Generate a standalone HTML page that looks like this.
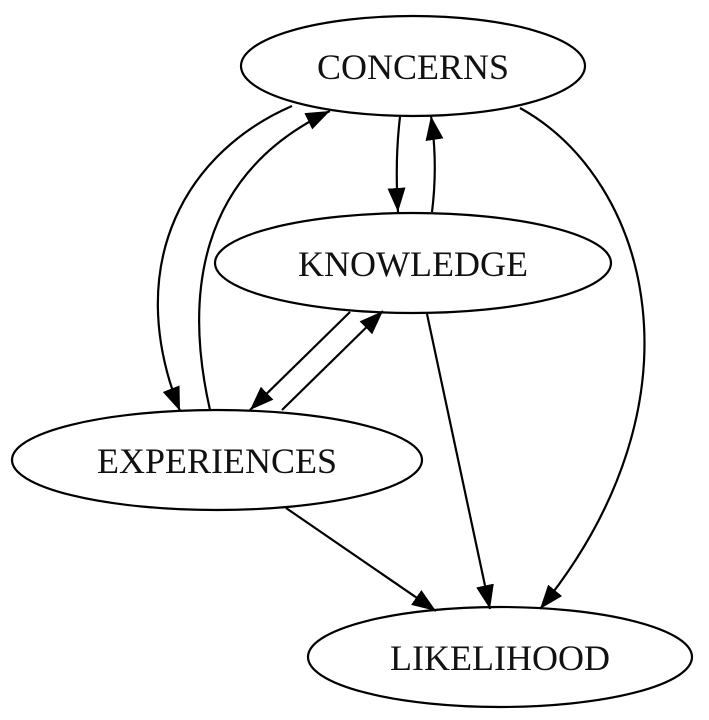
<!DOCTYPE html>
<html><head><style>
html,body{margin:0;padding:0;background:#fff;}
svg{display:block;}
text{font-family:"Liberation Serif",serif;font-size:36px;fill:#111;}
</style></head><body>
<svg width="709" height="720" viewBox="0 0 709 720" xmlns="http://www.w3.org/2000/svg">
<defs>
<marker id="a" markerWidth="24" markerHeight="18" refX="24" refY="9" orient="auto" markerUnits="userSpaceOnUse">
<path d="M0,0 L24,9 L0,18 Z" fill="#000"/>
</marker>
</defs>
<g fill="none" stroke="#000" stroke-width="2.2">
<ellipse cx="413" cy="66" rx="172" ry="50"/>
<ellipse cx="413" cy="263" rx="198" ry="50"/>
<ellipse cx="217" cy="460" rx="205" ry="50"/>
<ellipse cx="500" cy="657" rx="192" ry="50"/>
<path d="M292,106 C190,150 120,260 180,411" marker-end="url(#a)"/>
<path d="M210,410 C185,300 195,175 330,111" marker-end="url(#a)"/>
<path d="M400,117 C396,150 396,180 398,212" marker-end="url(#a)"/>
<path d="M432,212 C436,180 436,150 431,116" marker-end="url(#a)"/>
<path d="M350,312 L250,410" marker-end="url(#a)"/>
<path d="M282,410 L383,311" marker-end="url(#a)"/>
<path d="M427,314 L490,609" marker-end="url(#a)"/>
<path d="M520,108 C650,180 710,400 540,609" marker-end="url(#a)"/>
<path d="M286,508 L436,611" marker-end="url(#a)"/>
</g>
<text x="413" y="79" text-anchor="middle">CONCERNS</text>
<text x="413" y="276" text-anchor="middle">KNOWLEDGE</text>
<text x="217" y="473" text-anchor="middle">EXPERIENCES</text>
<text x="500" y="670" text-anchor="middle">LIKELIHOOD</text>
</svg>
</body></html>
